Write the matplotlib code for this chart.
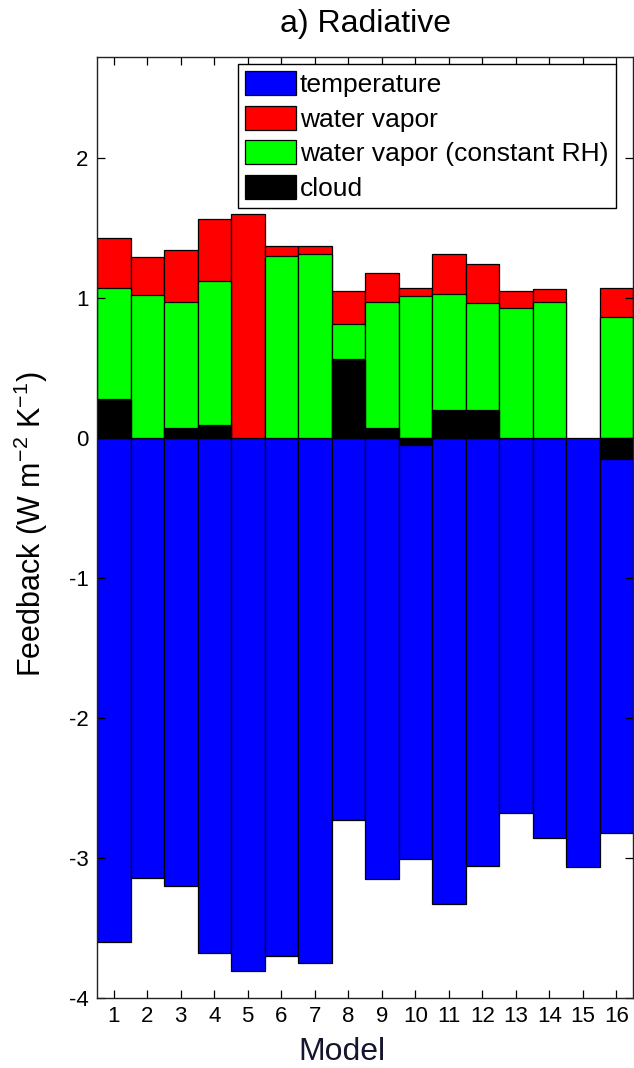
import numpy as np
import matplotlib
matplotlib.use("Agg")
import matplotlib.pyplot as plt
from matplotlib.patches import Patch

nan = np.nan

# Feedback components per model (W m-2 K-1)
models = list(range(1, 17))
temperature = [-3.60, -3.14, -3.20, -3.68, -3.81, -3.70, -3.75, -2.73,
               -3.15, -3.01, -3.33, -3.055, -2.68, -2.86, -3.065, -2.82]
water_vapor = [1.43, 1.29, 1.34, 1.56, 1.60, 1.37, 1.37, 1.05,
               1.18, 1.07, 1.31, 1.24, 1.05, 1.06, nan, 1.07]
water_vapor_rh = [1.07, 1.02, 0.97, 1.12, nan, 1.30, 1.31, 0.81,
                  0.97, 1.01, 1.03, 0.96, 0.93, 0.97, nan, 0.86]
cloud = [0.28, nan, 0.07, 0.09, nan, nan, nan, 0.56,
         0.07, -0.05, 0.20, 0.20, nan, nan, nan, -0.15]

series_labels = ["temperature", "water vapor",
                 "water vapor (constant RH)", "cloud"]
series_colors = ["#0000ff", "#ff0000", "#00ff00", "#000000"]
yticks = [-4, -3, -2, -1, 0, 1, 2]

plt.rcParams["font.family"] = ["Liberation Sans", "DejaVu Sans"]
plt.rcParams["mathtext.fontset"] = "custom"
plt.rcParams["mathtext.rm"] = "Liberation Sans"
plt.rcParams["mathtext.it"] = "Liberation Sans"
plt.rcParams["axes.unicode_minus"] = False

W, H = 634, 1068
fig = plt.figure(figsize=(W / 100, H / 100), dpi=100)
ax = fig.add_axes([97 / W, 1 - 998 / H, (633 - 97) / W, 941 / H])

for values, color in zip([temperature, water_vapor, water_vapor_rh, cloud],
                         series_colors):
    ax.bar(models, values, width=1.0, color=color, edgecolor="black",
           linewidth=0.9)

ax.set_xlim(0.5, 16.5)
ax.set_ylim(-4, 2.72)
ax.set_xticks(models)
ax.set_xticklabels([str(m) for m in models])
ax.set_yticks(yticks)
ax.set_yticklabels([str(t) for t in yticks])
ax.tick_params(direction="in", length=6, width=0.9, top=True, right=True,
               labelsize=16, pad=6)
for s in ax.spines.values():
    s.set_linewidth(1.0)
    s.set_color("#222222")

ax.set_title("a) Radiative", fontsize=23, pad=18)
ax.set_xlabel("Model", fontsize=23, color="#151530")
ax.xaxis.set_label_coords((342 - 97) / 536, -0.041)
fig.text(31 / W, 1 - 524 / H, r"Feedback (W m$^{-2}$ K$^{-1}$)",
         rotation=90, ha="center", va="center", fontsize=22)

handles = [Patch(facecolor=c, edgecolor="black", linewidth=0.9)
           for c in series_colors]
leg = ax.legend(handles, series_labels, loc="upper left",
                bbox_to_anchor=(0.2626, 0.9926), borderaxespad=0,
                fontsize=19, handlelength=1.93, handleheight=1.02,
                handletextpad=0.15, labelspacing=0.32, borderpad=0.28,
                fancybox=False, framealpha=1, edgecolor="black")
leg.get_frame().set_linewidth(1.0)

fig.savefig("out.png", dpi=100, facecolor="white")
